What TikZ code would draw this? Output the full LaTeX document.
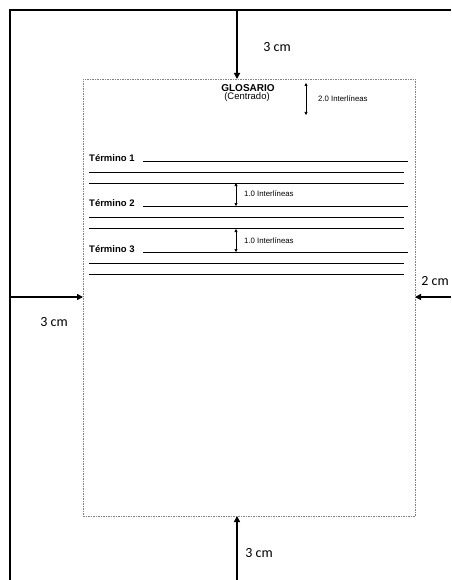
\documentclass[tikz,border=0pt]{standalone}
\usepackage{fontspec}
\setmainfont{Liberation Sans}
\newfontfamily\calibri{Carlito}
\usetikzlibrary{arrows.meta}

\begin{document}
\begin{tikzpicture}[x=1pt, y=-1pt,
                    margen/.style = {line width=2.2pt, -{Triangle[length=6pt,width=6pt]}},
                    medida/.style = {font=\calibri\fontsize{14}{16}\selectfont},
                    renglon/.style = {line width=0.9pt},
                    interlinea/.style = {line width=0.6pt, {Triangle[length=3pt,width=3pt]}-{Triangle[length=3pt,width=3pt]}},
                    nota/.style = {font=\fontsize{7.8}{9}\selectfont, anchor=west, inner sep=0pt},
                    termino/.style = {font=\bfseries\fontsize{9.5}{11}\selectfont, anchor=base west, inner sep=0pt}]
                    \useasboundingbox (0,0) rectangle (451,580);

                    % hoja
                    \draw[line width=2.2pt] (10,580) -- (10,10) -- (451,10);

                    % area de texto
                    \node[draw=gray, dash pattern=on 1.5pt off 1pt, line width=0.6pt, inner sep=0pt, outer sep=0pt,
                          minimum width=332pt, minimum height=437pt] (area) at (249,297.5) {};

                    % margenes
                    \coordinate (arriba) at (237,10);
                    \coordinate (abajo) at (237,580);
                    \coordinate (izq) at (10,297);
                    \coordinate (der) at (451,297);
                    \draw[margen] (arriba) -- (arriba |- area.north);
                    \draw[margen] (abajo) -- (abajo |- area.south);
                    \draw[margen] (izq) -- (izq -| area.west);
                    \draw[margen] (der) -- (der -| area.east);
                    \node[medida] (m1) at (277,47) {3 cm};
                    \node[medida] (m2) at (259,553) {3 cm};
                    \node[medida] (m3) at (54,322) {3 cm};
                    \node[medida] (m4) at (435,281) {2 cm};

                    % titulo
                    \node[font=\bfseries\fontsize{10}{11}\selectfont, inner sep=0pt] (titulo) at (248,88) {GLOSARIO};
                    \node[font=\fontsize{9.5}{11}\selectfont, inner sep=0pt] (centrado) at (247,97.5) {(Centrado)};
                    \coordinate (i1) at (306,83);
                    \coordinate (i2) at (306,115);
                    \draw[interlinea] (i1) -- (i2);
                    \node[nota] (n0) at (318,99) {2.0 Interlíneas};

                    % terminos
                    \foreach \n/\y in {1/161, 2/206, 3/252} {
                        \node[termino] (t\n) at (89,\y) {Término \n};
                        \draw[renglon] (143,\y) -- (408,\y);
                        \draw[renglon] (89,\y+11) -- (404,\y+11);
                        \draw[renglon] (89,\y+22) -- (404,\y+22);
                    }

                    % interlineas
                    \coordinate (a1) at (236,183);
                    \coordinate (a2) at (236,206);
                    \coordinate (b1) at (236,229);
                    \coordinate (b2) at (236,252);
                    \draw[interlinea] (a1) -- (a2);
                    \draw[interlinea] (b1) -- (b2);
                    \node[nota] (n1) at (244,194) {1.0 Interlíneas};
                    \node[nota] (n2) at (244,241) {1.0 Interlíneas};
                \end{tikzpicture}
\end{document}
